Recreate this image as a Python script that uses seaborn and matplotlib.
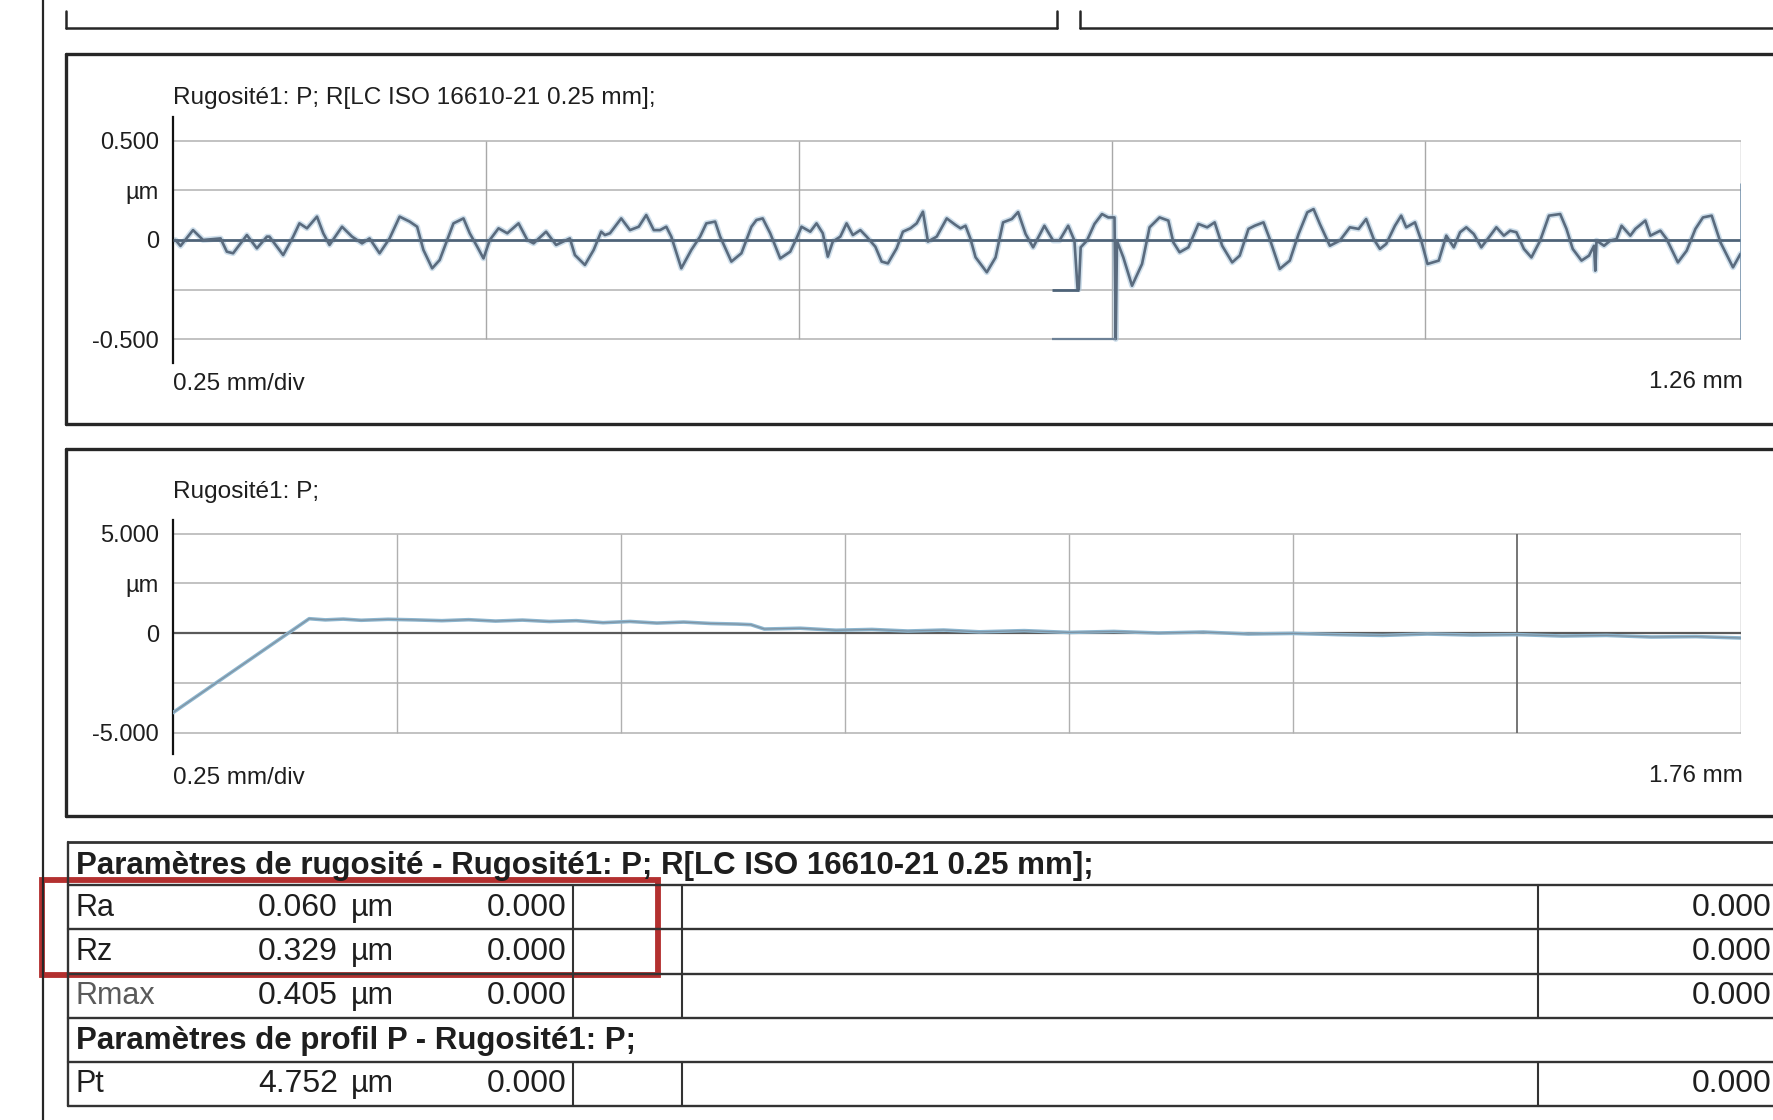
import matplotlib
matplotlib.use("Agg")
import matplotlib.pyplot as plt
import seaborn as sns
import pandas as pd
from matplotlib.lines import Line2D
from matplotlib.patches import Rectangle

# ---------------- data ----------------
# Filtered roughness profile R (x in mm, height in µm)
top_x = [0.002, 0.006, 0.016, 0.024, 0.038, 0.043, 0.048, 0.059, 0.067, 0.075,
         0.077, 0.088, 0.096, 0.101, 0.107, 0.115, 0.120, 0.125, 0.135, 0.143,
         0.151, 0.157, 0.165, 0.173, 0.181, 0.189, 0.195, 0.200, 0.207, 0.213,
         0.219, 0.224, 0.232, 0.237, 0.243, 0.248, 0.253, 0.260, 0.267, 0.276,
         0.283, 0.288, 0.298, 0.306, 0.317,
         0.321, 0.329, 0.336, 0.342, 0.345, 0.349, 0.358, 0.365, 0.372, 0.378,
         0.384, 0.389, 0.394, 0.398, 0.406, 0.414, 0.421, 0.426, 0.433, 0.437,
         0.446, 0.454, 0.462, 0.466, 0.471, 0.477, 0.485, 0.493, 0.498, 0.502,
         0.509, 0.514, 0.519, 0.523, 0.527, 0.533, 0.538, 0.543, 0.549, 0.554,
         0.561, 0.566, 0.571, 0.578, 0.583, 0.589, 0.594, 0.599, 0.603, 0.610,
         0.618, 0.625, 0.629,
         0.633, 0.637, 0.641, 0.650, 0.657, 0.663, 0.670, 0.675, 0.681, 0.687,
         0.696, 0.703, 0.708, 0.715, 0.720, 0.7225, 0.7235, 0.725, 0.730, 0.736,
         0.742, 0.747, 0.752, 0.753, 0.754, 0.759, 0.766, 0.774, 0.780, 0.788,
         0.795, 0.799, 0.804, 0.811, 0.819, 0.826, 0.832, 0.838, 0.846, 0.852,
         0.859, 0.864, 0.871, 0.876, 0.884, 0.892, 0.899, 0.906, 0.911, 0.916,
         0.924, 0.932, 0.940,
         0.947, 0.953, 0.959, 0.964, 0.969, 0.976, 0.981, 0.985, 0.992, 0.997,
         1.002, 1.011, 1.017, 1.023, 1.028, 1.033, 1.039, 1.045, 1.051, 1.057,
         1.063, 1.068, 1.073, 1.079, 1.085, 1.092, 1.099, 1.108, 1.113, 1.118,
         1.125, 1.131, 1.135, 1.136, 1.137, 1.143, 1.148, 1.153, 1.157, 1.164,
         1.168, 1.176, 1.180, 1.188, 1.193, 1.202, 1.209, 1.216, 1.222, 1.229,
         1.236, 1.246, 1.252]
top_um = [0.0, -0.03, 0.05, 0.0, 0.008, -0.059, -0.067, 0.025, -0.042, 0.017,
          0.017, -0.076, 0.017, 0.084, 0.059, 0.118, 0.034, -0.025, 0.067, 0.017,
          -0.017, 0.008, -0.067, 0.008, 0.118, 0.093, 0.067, -0.05, -0.143, -0.101,
          0.0, 0.084, 0.109, 0.034, -0.034, -0.093, 0.0, 0.059, 0.034, 0.084,
          0.0, -0.017, 0.042, -0.025, 0.008,
          -0.076, -0.126, -0.05, 0.042, 0.025, 0.034, 0.109, 0.05, 0.067, 0.126,
          0.05, 0.05, 0.067, 0.017, -0.143, -0.05, 0.017, 0.084, 0.093, 0.017,
          -0.109, -0.067, 0.067, 0.101, 0.109, 0.034, -0.093, -0.059, 0.008, 0.067,
          0.042, 0.084, 0.034, -0.084, -0.008, 0.017, 0.084, 0.025, 0.05, 0.017,
          -0.034, -0.109, -0.118, -0.042, 0.042, 0.059, 0.084, 0.143, -0.008, 0.017,
          0.109, 0.076, 0.059,
          0.072, 0.005, -0.087, -0.163, -0.088, 0.089, 0.106, 0.141, 0.03, -0.037,
          0.072, -0.003, -0.003, 0.072, -0.003, -0.248, -0.248, -0.037, -0.003, 0.081,
          0.131, 0.114, 0.114, -0.5, -0.005, -0.087, -0.231, -0.121, 0.064, 0.114,
          0.098, -0.012, -0.062, -0.037, 0.081, 0.064, 0.089, -0.029, -0.113, -0.079,
          0.056, 0.072, 0.089, 0.005, -0.146, -0.104, 0.03, 0.14, 0.156, 0.081,
          -0.029, -0.003, 0.064,
          0.056, 0.106, 0.005, -0.045, -0.02, 0.072, 0.123, 0.064, 0.089, -0.003,
          -0.121, -0.104, 0.022, -0.037, 0.039, 0.064, 0.03, -0.037, 0.013, 0.064,
          0.022, 0.047, 0.039, -0.045, -0.088, -0.003, 0.123, 0.131, 0.056, -0.045,
          -0.104, -0.079, -0.029, -0.155, -0.003, -0.029, -0.003, 0.005, 0.072, 0.022,
          0.056, 0.098, 0.022, 0.047, 0.005, -0.113, -0.054, 0.056, 0.114, 0.123,
          -0.012, -0.138, -0.07]

# Rz / Rmax section markers on the R profile
marker_x = [0.702, 0.724, 0.753]
marker_um = [-0.25, -0.5]
end_marker_um = [0.29, -0.5]

# Primary profile P (x in mm, height in µm)
bottom_x = [0.000, 0.152, 0.17, 0.19, 0.21, 0.24, 0.27, 0.30, 0.33, 0.36, 0.39,
            0.42, 0.45, 0.48, 0.51, 0.54, 0.57, 0.60, 0.63, 0.645, 0.66, 0.70,
            0.74, 0.78, 0.82, 0.86, 0.90, 0.95, 1.00, 1.05, 1.10, 1.15, 1.20,
            1.25, 1.30, 1.35, 1.40, 1.45, 1.50, 1.55, 1.60, 1.65, 1.70, 1.75]
bottom_um = [-4.00, 0.72, 0.66, 0.70, 0.64, 0.69, 0.66, 0.62, 0.67, 0.60, 0.65,
             0.58, 0.62, 0.52, 0.58, 0.50, 0.55, 0.48, 0.45, 0.42, 0.20, 0.24,
             0.14, 0.18, 0.10, 0.15, 0.06, 0.12, 0.03, 0.08, 0.00, 0.05, -0.05,
             -0.02, -0.08, -0.12, -0.05, -0.10, -0.08, -0.15, -0.12, -0.20, -0.18, -0.25]

top_title = "Rugosité1: P; R[LC ISO 16610-21 0.25 mm];"
bottom_title = "Rugosité1: P;"
top_yticks = [0.5, 0.25, 0, -0.25, -0.5]
top_yticklabels = ["0.500", "µm", "0", "", "-0.500"]
bottom_yticks = [5, 2.5, 0, -2.5, -5]
bottom_yticklabels = ["5.000", "µm", "0", "", "-5.000"]
top_length_label = "1.26 mm"
bottom_length_label = "1.76 mm"
scale_label = "0.25 mm/div"

table_header1 = "Paramètres de rugosité - Rugosité1: P; R[LC ISO 16610-21 0.25 mm];"
table_header2 = "Paramètres de profil P - Rugosité1: P;"
param_names = ["Ra", "Rz", "Rmax", "Pt"]
param_values = [0.060, 0.329, 0.405, 4.752]
param_units = ["µm", "µm", "µm", "µm"]
param_col3 = [0.000, 0.000, 0.000, 0.000]
param_last = [0.000, 0.000, 0.000, 0.000]

# ---------------- figure ----------------
W, H = 1773, 1120
sns.set_theme(style="white")
plt.rcParams['font.family'] = ['Liberation Sans', 'DejaVu Sans']

fig = plt.figure(figsize=(W / 100, H / 100), dpi=100)
fig.patch.set_facecolor("white")


def fx(px):
    return px / W


def fy(py):
    return 1 - py / H


def fline(xs, ys, **kw):
    fig.add_artist(Line2D([fx(v) for v in xs], [fy(v) for v in ys],
                          transform=fig.transFigure, **kw))


def ftext(x, y, s, **kw):
    fig.text(fx(x), fy(y), s, **kw)


TXT = "#1e1e1e"
FRAME = "#262626"

# page decorations
fline([43, 43], [0, 1120], color=FRAME, lw=1.6)
fline([66, 1057], [28, 28], color=FRAME, lw=1.8)
fline([66, 66], [11, 28], color=FRAME, lw=1.8)
fline([1057, 1057], [11, 28], color=FRAME, lw=1.8)
fline([1080, 1780], [28, 28], color=FRAME, lw=1.8)
fline([1080, 1080], [11, 28], color=FRAME, lw=1.8)

# panel frames
for top, bot in [(54, 424), (449, 816)]:
    fline([66, 1780], [top, top], color=FRAME, lw=2.4)
    fline([66, 1780], [bot, bot], color=FRAME, lw=2.4)
    fline([66, 66], [top, bot], color=FRAME, lw=2.4)

# ---------- top chart ----------
x_end_top = 1.2524
ax1 = fig.add_axes([fx(173), fy(362.8), fx(1741) - fx(173), (362.8 - 117.2) / H])
ax1.set_xlim(0, x_end_top)
ax1.set_ylim(-0.62, 0.62)
for yv in [0.5, 0.25, -0.25, -0.5]:
    ax1.hlines(yv, 0, x_end_top, color="#c2c2c2", lw=1.4, zorder=1)
for xv in [0.25, 0.5, 0.75, 1.0]:
    ax1.vlines(xv, -0.5, 0.5, color="#a8a8a8", lw=1.0, zorder=1)
ax1.vlines(x_end_top, -0.5, 0.5, color="#9a9a9a", lw=1.0, zorder=1)

df_top = pd.DataFrame({"x": top_x, "um": top_um})
sns.lineplot(data=df_top, x="x", y="um", ax=ax1, sort=False, estimator=None,
             color="#a9c6dc", lw=4.2, alpha=0.55, zorder=2)
ax1.hlines(0, 0, x_end_top, color="#4e6378", lw=2.0, zorder=3)
sns.lineplot(data=df_top, x="x", y="um", ax=ax1, sort=False, estimator=None,
             color="#5a6b7e", lw=1.9, zorder=4)
ax1.hlines(marker_um[0], marker_x[0], marker_x[1], color="#4e6378", lw=2.0, zorder=4)
ax1.hlines(marker_um[1], marker_x[0], marker_x[2], color="#6d8196", lw=1.6, zorder=4)
ax1.vlines(x_end_top, end_marker_um[1], end_marker_um[0], color="#6f8fab", lw=1.8, zorder=4)

ax1.set_yticks(top_yticks)
ax1.set_yticklabels(top_yticklabels)
ax1.set_xticks([])
ax1.set_xlabel("")
ax1.set_ylabel("")
ax1.tick_params(axis="y", length=0, pad=10, labelsize=17, labelcolor=TXT)
for s in ["top", "right", "bottom"]:
    ax1.spines[s].set_visible(False)
ax1.spines["left"].set_color("#111111")
ax1.spines["left"].set_linewidth(1.6)
ax1.patch.set_alpha(0)

ftext(173, 98, top_title, fontsize=17.6, color=TXT, ha="left", va="center")
ftext(173, 384, scale_label, fontsize=17.4, color=TXT, ha="left", va="center")
ftext(1743, 382, top_length_label, fontsize=17.4, color=TXT, ha="right", va="center")

# ---------- bottom chart ----------
x_end_bot = 1.75
ax2 = fig.add_axes([fx(173), fy(754.4), fx(1741) - fx(173), (754.4 - 519.6) / H])
ax2.set_xlim(0, x_end_bot)
ax2.set_ylim(-6.1, 5.7)
for yv in [5, 2.5, -2.5, -5]:
    ax2.hlines(yv, 0, x_end_bot, color="#c2c2c2", lw=1.4, zorder=1)
for xv in [0.25, 0.5, 0.75, 1.0, 1.25]:
    ax2.vlines(xv, -5, 5, color="#b0b0b0", lw=1.0, zorder=1)
ax2.vlines(1.5, -5, 5, color="#6a6a6a", lw=1.3, zorder=1)
ax2.vlines(x_end_bot, -5, 5, color="#8a8a8a", lw=1.0, zorder=1)
ax2.hlines(0, 0, x_end_bot, color="#5a5a5a", lw=1.6, zorder=2)

df_bot = pd.DataFrame({"x": bottom_x, "um": bottom_um})
sns.lineplot(data=df_bot, x="x", y="um", ax=ax2, sort=False, estimator=None,
             color="#8db6cf", lw=2.6, zorder=3)
sns.lineplot(data=df_bot, x="x", y="um", ax=ax2, sort=False, estimator=None,
             color="#7c8a97", lw=0.9, alpha=0.8, zorder=4)

ax2.set_yticks(bottom_yticks)
ax2.set_yticklabels(bottom_yticklabels)
ax2.set_xticks([])
ax2.set_xlabel("")
ax2.set_ylabel("")
ax2.tick_params(axis="y", length=0, pad=10, labelsize=17, labelcolor=TXT)
for s in ["top", "right", "bottom"]:
    ax2.spines[s].set_visible(False)
ax2.spines["left"].set_color("#111111")
ax2.spines["left"].set_linewidth(1.6)
ax2.patch.set_alpha(0)

ftext(173, 492, bottom_title, fontsize=17.6, color=TXT, ha="left", va="center")
ftext(173, 778, scale_label, fontsize=17.4, color=TXT, ha="left", va="center")
ftext(1743, 776, bottom_length_label, fontsize=17.4, color=TXT, ha="right", va="center")

# ---------- parameter table ----------
TL = "#333333"
fline([68, 1780], [842, 842], color=TL, lw=2.0)
row_lines = [885, 929, 973.5, 1017.6, 1061.7, 1106]
for yl in row_lines:
    fline([68, 1780], [yl, yl], color=TL, lw=1.7)
fline([68, 68], [842, 1106], color=TL, lw=1.7)
for xc in [573, 682, 1538]:
    fline([xc, xc], [885, 1017.6], color=TL, lw=1.5)
    fline([xc, xc], [1061.7, 1106], color=TL, lw=1.5)

ftext(76, 866, table_header1, fontsize=22.5, fontweight="bold", color=TXT, ha="left", va="center")
ftext(76, 1041, table_header2, fontsize=22.5, fontweight="bold", color=TXT, ha="left", va="center")

row_centers = [908, 952, 996, 1084]
for name, val, unit, c3, last, yc in zip(param_names, param_values, param_units,
                                         param_col3, param_last, row_centers):
    col = "#5a5a5a" if name == "Rmax" else TXT
    ftext(76, yc, name, fontsize=22, color=col, ha="left", va="center")
    ftext(258, yc, f"{val:.3f}", fontsize=23, color=TXT, ha="left", va="center")
    ftext(351, yc, unit, fontsize=22, color=TXT, ha="left", va="center")
    ftext(566, yc, f"{c3:.3f}", fontsize=23, color=TXT, ha="right", va="center")
    ftext(1692, yc, f"{last:.3f}", fontsize=23, color=TXT, ha="left", va="center")

# highlight box
fig.add_artist(Rectangle((fx(42), fy(975)), fx(658) - fx(42), (975 - 880) / H,
                         transform=fig.transFigure, fill=False,
                         edgecolor="#b3302f", lw=4.2))

fig.savefig("out.png", dpi=100, facecolor="white")
